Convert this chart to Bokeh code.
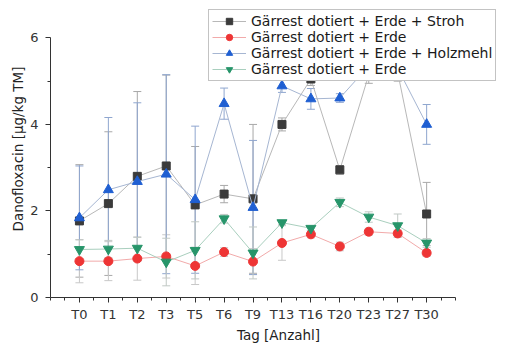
import numpy as np
from bokeh.plotting import figure
from bokeh.models import (ColumnDataSource, Whisker, TeeHead, FixedTicker, Legend, LegendItem, Range1d)
from bokeh.core.properties import value
from bokeh.embed import file_html
from bokeh.resources import INLINE

days = ["T0", "T1", "T2", "T3", "T5", "T6", "T9", "T13", "T16", "T20", "T23", "T27", "T30"]

names = ["Gärrest dotiert + Erde + Stroh", "Gärrest dotiert + Erde",
         "Gärrest dotiert + Erde + Holzmehl", "Gärrest dotiert + Erde"]

stroh = [1.77, 2.17, 2.80, 3.04, 2.14, 2.39, 2.28, 4.00, 5.05, 2.95, 5.15, 5.20, 1.93]
stroh_err = [1.30, 1.66, 1.96, 2.10, 1.35, 0.20, 1.72, 0.15, 0.15, 0.10, 0.20, 0.20, 0.73]

erde1 = [0.84, 0.84, 0.90, 0.95, 0.73, 1.05, 0.83, 1.26, 1.46, 1.18, 1.52, 1.48, 1.03]
erde1_err = [0.50, 0.45, 0.50, 0.50, 0.43, 0.10, 0.30, 0.40, 0.08, 0.10, 0.08, 0.08, 0.08]

holz = [1.84, 2.49, 2.68, 2.85, 2.26, 4.48, 2.08, 4.89, 4.59, 4.61, 5.35, 5.30, 4.00]
holz_err = [1.20, 1.67, 1.82, 2.30, 1.70, 0.36, 1.55, 0.15, 0.24, 0.10, 0.20, 0.20, 0.46]

erde2 = [1.11, 1.12, 1.14, 0.82, 1.09, 1.82, 1.03, 1.73, 1.60, 2.20, 1.86, 1.66, 1.26]
erde2_err = [0.22, 0.20, 0.25, 0.55, 0.66, 0.10, 0.60, 0.05, 0.05, 0.10, 0.12, 0.27, 0.10]

FONT = "DejaVu Sans"

# frame spans to the right/top edges so the legend is not clipped;
# axis bounds keep the axis lines at the reference extent
p = figure(width=506, height=345, output_backend="svg", toolbar_location=None,
           x_range=Range1d(-1, 14.76), y_range=Range1d(0, 6.864),
           min_border_left=50, min_border_right=0, min_border_top=0, min_border_bottom=43)
p.outline_line_color = None
p.xgrid.grid_line_color = None
p.ygrid.grid_line_color = None
p.background_fill_color = "white"
p.border_fill_color = "white"

xs = list(range(len(days)))

series = [
    (stroh, stroh_err, "square", 8, "#3b3b3b", "#b8b8b8", "#a8a8a8"),
    (erde1, erde1_err, "circle", 9, "#ee3535", "#f2aaaa", "#c8c8c8"),
    (holz, holz_err, "triangle", 10, "#1f5fd2", "#a6b6d2", "#8fa6cf"),
    (erde2, erde2_err, "inverted_triangle", 10, "#27956a", "#a9cfbe", "#c0c8c4"),
]

renderers = []
for vals, errs, marker, size, col, lcol, ecol in series:
    v = np.array(vals)
    e = np.array(errs)
    src = ColumnDataSource(dict(x=xs, y=v, upper=v + e, lower=v - e))
    w = Whisker(source=src, base="x", upper="upper", lower="lower", dimension="height",
                line_color=ecol, line_width=1, level="underlay",
                upper_head=TeeHead(size=8, line_color=ecol, line_width=1),
                lower_head=TeeHead(size=8, line_color=ecol, line_width=1))
    p.add_layout(w)
    renderers.append((src, marker, size, col, lcol))

items = []
for (src, marker, size, col, lcol), name in zip(renderers, names):
    r_line = p.line("x", "y", source=src, line_color=lcol, line_width=1)
    r_pt = p.scatter("x", "y", source=src, marker=marker, size=size,
                     fill_color=col, line_color=col)
    items.append(LegendItem(label=value(name), renderers=[r_line, r_pt]))

legend = Legend(items=items, location=(158, 216), orientation="vertical",
                label_text_font=FONT, label_text_font_size="14px", label_text_color="#1a1a1a",
                glyph_width=34, glyph_height=16, label_height=16, label_standoff=5,
                spacing=0, padding=3, margin=0,
                border_line_color="#888888", border_line_width=1,
                background_fill_color="white", background_fill_alpha=1.0)
p.add_layout(legend, "center")

p.xaxis.ticker = FixedTicker(ticks=xs, minor_ticks=list(np.arange(-1, 13.01, 0.5)))
p.xaxis.major_label_overrides = {i: d for i, d in enumerate(days)}
p.xaxis.bounds = (-1, 13)
p.yaxis.ticker = FixedTicker(ticks=[0, 2, 4, 6], minor_ticks=[1, 3, 5])
p.yaxis.bounds = (0, 6)

for ax in (p.xaxis[0], p.yaxis[0]):
    ax.axis_line_color = "#333333"
    ax.major_tick_line_color = "#333333"
    ax.minor_tick_line_color = "#333333"
    ax.major_tick_in = 0
    ax.major_tick_out = 5
    ax.minor_tick_in = 0
    ax.minor_tick_out = 3
    ax.major_label_text_font = FONT
    ax.major_label_text_font_size = "13px"
    ax.major_label_text_color = "#333333"
    ax.axis_label_text_font = FONT
    ax.axis_label_text_font_size = "13.5px"
    ax.axis_label_text_font_style = "normal"
    ax.axis_label_text_color = "#222222"

p.xaxis.axis_label = "Tag [Anzahl]"
p.yaxis.axis_label = "Danofloxacin [µg/kg TM]"
p.xaxis.major_label_standoff = 4
p.xaxis.axis_label_standoff = 2
p.yaxis.major_label_standoff = 7
p.yaxis.axis_label_standoff = 1

open("out.html", "w").write(file_html(p, INLINE))
